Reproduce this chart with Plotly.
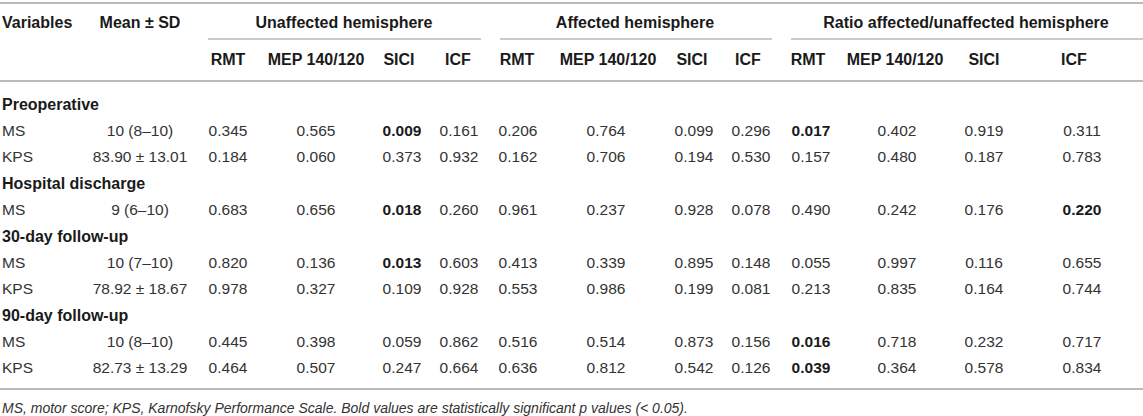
import plotly.graph_objects as go

# table content
SECTIONS = ["Preoperative", "Hospital discharge", "30-day follow-up", "90-day follow-up"]
ROW_SECTION = [0, 0, 1, 2, 2, 3, 3]
VARIABLES = ["MS", "KPS", "MS", "MS", "KPS", "MS", "KPS"]
MEAN_SD = ["10 (8–10)", "83.90 ± 13.01", "9 (6–10)", "10 (7–10)",
           "78.92 ± 18.67", "10 (8–10)", "82.73 ± 13.29"]

GROUPS = ["Unaffected hemisphere", "Affected hemisphere", "Ratio affected/unaffected hemisphere"]
MEASURES = ["RMT", "MEP 140/120", "SICI", "ICF"]

UNAFFECTED = [
    [0.345, 0.565, 0.009, 0.161],
    [0.184, 0.060, 0.373, 0.932],
    [0.683, 0.656, 0.018, 0.260],
    [0.820, 0.136, 0.013, 0.603],
    [0.978, 0.327, 0.109, 0.928],
    [0.445, 0.398, 0.059, 0.862],
    [0.464, 0.507, 0.247, 0.664],
]
AFFECTED = [
    [0.206, 0.764, 0.099, 0.296],
    [0.162, 0.706, 0.194, 0.530],
    [0.961, 0.237, 0.928, 0.078],
    [0.413, 0.339, 0.895, 0.148],
    [0.553, 0.986, 0.199, 0.081],
    [0.516, 0.514, 0.873, 0.156],
    [0.636, 0.812, 0.542, 0.126],
]
RATIO = [
    [0.017, 0.402, 0.919, 0.311],
    [0.157, 0.480, 0.187, 0.783],
    [0.490, 0.242, 0.176, 0.220],
    [0.055, 0.997, 0.116, 0.655],
    [0.213, 0.835, 0.164, 0.744],
    [0.016, 0.718, 0.232, 0.717],
    [0.039, 0.364, 0.578, 0.834],
]
# (data row, value column) shown in bold
BOLD_CELLS = [(0, 2), (0, 8), (2, 2), (2, 11), (3, 2), (5, 8), (6, 8)]

FOOTNOTE = ("MS, motor score; KPS, Karnofsky Performance Scale. "
            "Bold values are statistically significant p values (< 0.05).")

# layout (pixel units on the axes)
W, H = 1143, 416
FONT = "Liberation Sans"
SIZE = 15.5
HEAD_SIZE = 16
TXT = "#333333"
HEAD = "#1a1a1a"
RULE = "#bababa"
VAL_X = [228, 316, 402, 459, 518, 606, 694, 751, 811, 897, 984, 1082]
HEAD_X = [228, 316, 399, 458, 517, 608, 692, 748, 808, 895, 984, 1074]
GROUP_X = [344, 635, 966]
GROUP_SPAN = [(208, 481), (500, 772), (791, W)]
MEAN_X = 140
LEFT_X = 2
Y_TOP, Y_GROUP, Y_SUB, Y_HEAD, Y_MID = 3, 24, 39, 61, 81
Y_FIRST, ROW_STEP = 105.5, 26.4
Y_BOTTOM, Y_NOTE = 389, 409

fig = go.Figure()


def add_text(xs, ys, texts, pos="middle center", bold=False, italic=False, size=SIZE, color=TXT):
    fig.add_trace(go.Scatter(
        x=xs, y=ys, text=texts, mode="text", textposition=pos,
        textfont=dict(family=FONT, size=size, color=color,
                      weight="bold" if bold else "normal",
                      style="italic" if italic else "normal"),
        hoverinfo="skip", showlegend=False, cliponaxis=False))


# header
add_text([LEFT_X], [Y_GROUP], ["Variables"], pos="middle right", bold=True, size=HEAD_SIZE, color=HEAD)
add_text([MEAN_X], [Y_GROUP], ["Mean ± SD"], bold=True, size=HEAD_SIZE, color=HEAD)
add_text(GROUP_X, [Y_GROUP] * 3, GROUPS, bold=True, size=HEAD_SIZE, color=HEAD)
add_text(HEAD_X, [Y_HEAD] * 12, MEASURES * 3, bold=True, size=HEAD_SIZE, color=HEAD)

# body: section titles and data lines
line = 0
sec_y, row_y = [], []
last = None
for r, s in enumerate(ROW_SECTION):
    if s != last:
        sec_y.append(Y_FIRST + ROW_STEP * line)
        line += 1
        last = s
    row_y.append(Y_FIRST + ROW_STEP * line)
    line += 1

add_text([LEFT_X] * len(SECTIONS), sec_y, SECTIONS, pos="middle right", bold=True, size=HEAD_SIZE, color=HEAD)
add_text([LEFT_X] * len(VARIABLES), row_y, VARIABLES, pos="middle right")
add_text([MEAN_X] * len(MEAN_SD), row_y, MEAN_SD)

reg_x, reg_y, reg_t = [], [], []
bold_x, bold_y, bold_t = [], [], []
for r in range(len(VARIABLES)):
    vals = UNAFFECTED[r] + AFFECTED[r] + RATIO[r]
    for c, v in enumerate(vals):
        if (r, c) in BOLD_CELLS:
            bold_x.append(VAL_X[c]); bold_y.append(row_y[r]); bold_t.append(f"{v:.3f}")
        else:
            reg_x.append(VAL_X[c]); reg_y.append(row_y[r]); reg_t.append(f"{v:.3f}")
add_text(reg_x, reg_y, reg_t)
add_text(bold_x, bold_y, bold_t, bold=True, color=HEAD)

add_text([LEFT_X], [Y_NOTE], [FOOTNOTE], pos="middle right", italic=True, size=14)

# rules
for y in (Y_TOP, Y_MID, Y_BOTTOM):
    fig.add_shape(type="line", xref="x", yref="y", x0=0, x1=W, y0=y, y1=y,
                  line=dict(color=RULE, width=2))
for x0, x1 in GROUP_SPAN:
    fig.add_shape(type="line", xref="x", yref="y", x0=x0, x1=x1, y0=Y_SUB, y1=Y_SUB,
                  line=dict(color=RULE, width=1.5))

fig.update_xaxes(range=[0, W], visible=False, fixedrange=True)
fig.update_yaxes(range=[H, 0], visible=False, fixedrange=True)
fig.update_layout(width=W, height=H, autosize=False,
                  margin=dict(l=0, r=0, t=0, b=0),
                  paper_bgcolor="white", plot_bgcolor="white")

# drop the page's default body margin so the figure fills the window
fig.write_html("out.html", config={"displayModeBar": False},
               post_script="document.body.style.margin='0';")
